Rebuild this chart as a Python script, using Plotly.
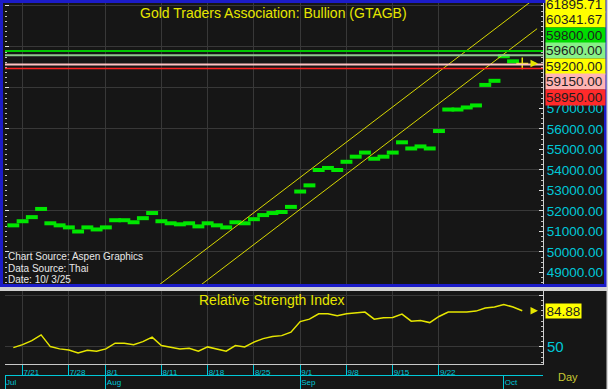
import plotly.graph_objects as go

# ---------------- data ----------------
dates = ["7/18",
         "7/21", "7/22", "7/23", "7/24", "7/25",
         "7/28", "7/29", "7/30", "7/31", "8/1",
         "8/4", "8/5", "8/6", "8/7", "8/8",
         "8/11", "8/12", "8/13", "8/14", "8/15",
         "8/18", "8/19", "8/20", "8/21", "8/22",
         "8/25", "8/26", "8/27", "8/28", "8/29",
         "9/1", "9/2", "9/3", "9/4", "9/5",
         "9/8", "9/9", "9/10", "9/11", "9/12",
         "9/15", "9/16", "9/17", "9/18", "9/19",
         "9/22", "9/23", "9/24", "9/25", "9/26",
         "9/29", "9/30", "10/1", "10/2", "10/3"]

closes = [51300,
          51500, 51700, 52100, 51400, 51300,
          51200, 51000, 51200, 51100, 51200,
          51550, 51550, 51450, 51650, 51900,
          51500, 51400, 51350, 51400, 51250,
          51400, 51300, 51200, 51450, 51400,
          51600, 51800, 51900, 51950, 52200,
          52950, 53250, 54000, 54100, 54000,
          54400, 54650, 54850, 54550, 54650,
          54850, 55350, 55050, 55150, 55050,
          55900, 56950, 56950, 57050, 57150,
          58150, 58350, 59550, 59300, 59200]

rsi = [49.3,
       52.2, 56.1, 61.6, 50.3, 48.1,
       47.1, 44.2, 46.8, 45.8, 48.1,
       53.6, 53.6, 52.2, 55.1, 59.4,
       51.3, 49.7, 48.1, 48.7, 45.8,
       50.0, 48.1, 45.8, 51.3, 50.0,
       54.6, 58.0, 60.0, 60.9, 64.2,
       74.5, 76.8, 82.0, 82.0, 80.0,
       82.0, 82.7, 83.6, 76.8, 78.1,
       78.4, 81.7, 74.9, 75.5, 73.5,
       79.4, 83.6, 83.6, 83.6, 84.6,
       87.5, 88.5, 91.0, 88.5, 84.88]

day_tick_labels = ["7/21", "7/28", "8/1", "8/11", "8/18", "8/25", "9/1", "9/8", "9/15", "9/22"]
month_labels = ["Jul", "Aug", "Sep", "Oct"]
month_first_days = ["8/1", "9/1", "10/1"]

price_tick_values = [49000, 50000, 51000, 52000, 53000, 54000, 55000, 56000, 57000]

# trend channel (drawn lines): positions in trading-day index and price
upper_channel_idx = [16, 57.6]
upper_channel_price = [48135.71, 62446.11]
lower_channel_idx = [21, 57.6]
lower_channel_price = [48301.67, 60892.07]

# horizontal study levels
level_values = [59800, 59600, 59150, 58950]
level_colors = ["#00c800", "#90c890", "#ffc4c4", "#ff2020"]
level_widths = [2, 2, 2, 1.5]

# right-hand value boxes
box_values = [61895.71, 60341.67, 59800.00, 59600.00, 59200.00, 59150.00, 58950.00]
box_colors = ["#ffff00", "#ffff00", "#00dd00", "#88f088", "#ffff00", "#ffb4b4", "#ff2a2a"]
last_price = 59200.00
rsi_last = 84.88

# ---------------- style ----------------
W, H = 608, 389
BG = "#161616"
GRID = "#383838"
CYAN = "#00c8d8"
YEL = "#e6e600"
FONT = "Liberation Sans, Arial, sans-serif"


def px_x(p):
    return p / W


def px_y(p):
    return 1 - p / H


XD = [px_x(5), px_x(543)]
XR = [0.1, 58.24]

x = list(range(1, len(dates) + 1))
day_tick_idx = [dates.index(d) + 1 for d in day_tick_labels]
month_tick_idx = [XR[0]] + [dates.index(d) + 1 for d in month_first_days]

fig = go.Figure()

# price bars
n = len(x)
sym = ["line-ew"] * (n - 1) + ["cross-thin"]
mcol = ["#00e600"] * (n - 1) + [YEL]
mlw = [4] * (n - 1) + [1.5]
fig.add_trace(go.Scatter(
    x=x, y=closes, mode="markers", xaxis="x", yaxis="y",
    marker=dict(symbol=sym, size=8.5, color=mcol, line=dict(color=mcol, width=mlw)),
    showlegend=False, hoverinfo="skip"))

# channel lines
for cx, cy in [(upper_channel_idx, upper_channel_price), (lower_channel_idx, lower_channel_price)]:
    fig.add_trace(go.Scatter(
        x=cx, y=cy, mode="lines", xaxis="x", yaxis="y3",
        line=dict(color="#d8d800", width=1), showlegend=False, hoverinfo="skip"))

# RSI
fig.add_trace(go.Scatter(
    x=x, y=rsi, mode="lines", xaxis="x2", yaxis="y2",
    line=dict(color=YEL, width=1.5), showlegend=False, hoverinfo="skip"))
# carrier for month axis
fig.add_trace(go.Scatter(
    x=[x[0]], y=[rsi[0]], mode="markers", xaxis="x3", yaxis="y2",
    marker=dict(opacity=0), showlegend=False, hoverinfo="skip"))

# horizontal levels
for v, c, w in zip(level_values, level_colors, level_widths):
    fig.add_shape(type="line", xref="x domain", x0=0, x1=1, yref="y", y0=v, y1=v,
                  line=dict(color=c, width=w))

price_range = [48390, 62146]

fig.update_layout(
    width=W, height=H,
    margin=dict(l=0, r=0, t=0, b=0),
    paper_bgcolor=BG, plot_bgcolor=BG,
    font=dict(family=FONT),
    showlegend=False,
    xaxis=dict(domain=XD, range=XR, anchor="y", tickvals=day_tick_idx,
               showticklabels=False, ticks="", showgrid=True, gridcolor=GRID,
               zeroline=False, showline=False),
    yaxis=dict(domain=[px_y(285), px_y(3)], range=price_range, anchor="x", side="right",
               tickvals=price_tick_values, ticktext=[f"{v:.2f}" for v in price_tick_values],
               tickfont=dict(color=CYAN, size=13.5, family=FONT),
               ticks="inside", ticklen=4, tickcolor="#e0e0e0",
               minor=dict(dtick=250, ticks="inside", ticklen=2, tickcolor="#c0c0c0", showgrid=False),
               showgrid=False, showline=True, linecolor="#d0d0d0", zeroline=False),
    yaxis3=dict(overlaying="y", range=price_range, anchor="x", side="left",
                tick0=0, dtick=2000, showgrid=True, gridcolor=GRID, showticklabels=False,
                ticks="inside", ticklen=4, tickcolor="#e0e0e0",
                minor=dict(dtick=250, ticks="inside", ticklen=2, tickcolor="#c0c0c0", showgrid=False),
                zeroline=False, showline=False),
    xaxis2=dict(domain=XD, range=XR, anchor="y2", tickvals=day_tick_idx, ticktext=day_tick_labels,
                ticks="outside", ticklen=11, tickcolor=CYAN, tickwidth=1,
                ticklabelposition="outside right", ticklabelstandoff=0,
                tickfont=dict(color=CYAN, size=8, family=FONT),
                showgrid=True, gridcolor=GRID, showline=True, linecolor="#c8c8c8",
                zeroline=False),
    xaxis3=dict(overlaying="x2", anchor="free", position=px_y(375), side="bottom",
                range=XR, tickvals=month_tick_idx, ticktext=month_labels,
                ticks="outside", ticklen=14, tickcolor=CYAN, tickwidth=1,
                ticklabelposition="outside right", ticklabelstandoff=-1,
                tickfont=dict(color=CYAN, size=8, family=FONT),
                showgrid=False, showline=True, linecolor=CYAN, zeroline=False),
    yaxis2=dict(domain=[px_y(364), px_y(291)], range=[33.5, 104], anchor="x2", side="right",
                tickvals=[50, 100], ticktext=["50", ""],
                tickfont=dict(color=CYAN, size=15, family=FONT),
                ticks="inside", ticklen=4, tickcolor="#e0e0e0",
                minor=dict(dtick=5, ticks="inside", ticklen=2, tickcolor="#c0c0c0", showgrid=False),
                showgrid=True, gridcolor=GRID, showline=True, linecolor="#d0d0d0",
                zeroline=False),
)

# frame / separators
fig.add_shape(type="rect", xref="paper", yref="paper",
              x0=0, x1=1, y0=px_y(291), y1=px_y(286),
              fillcolor="#d0d0d0", line=dict(width=0), layer="above")
fig.add_shape(type="rect", xref="paper", yref="paper",
              x0=px_x(1.5), x1=px_x(605.5), y0=px_y(285.5), y1=px_y(1.5),
              line=dict(color="#1c1cc8", width=3), layer="above")
fig.add_shape(type="rect", xref="paper", yref="paper",
              x0=px_x(606.5), x1=1, y0=0, y1=1,
              fillcolor="#d8d8d8", line=dict(width=0), layer="above")

ann = []


def txt(text, xp, yp, size, color, xanchor="center"):
    return dict(text=text, x=px_x(xp), y=px_y(yp), xref="paper", yref="paper",
                xanchor=xanchor, yanchor="middle", showarrow=False,
                font=dict(color=color, size=size, family=FONT))


ann.append(txt("Gold Traders Association: Bullion (GTAGB)", 273, 12.5, 14, YEL))
ann.append(txt("Relative Strength Index", 272, 300, 14, YEL))
for t, yy in [("Chart Source: Aspen Graphics", 256.5), ("Data Source: Thai", 268),
              ("Date: 10/ 3/25", 279.5)]:
    ann.append(txt(t, 6, yy, 10, "#e8e8e8", "left"))

box_centers = [4.5, 20, 35.5, 51, 66.5, 82, 97.5]
for v, c, cy in zip(box_values, box_colors, box_centers):
    ann.append(dict(text=f"{v:.2f}", x=px_x(545), y=px_y(cy), xref="paper", yref="paper",
                    xanchor="left", yanchor="middle", showarrow=False, align="left",
                    bgcolor=c, width=59, height=15, borderpad=0,
                    font=dict(color="#1e1e1e", size=13.5, family=FONT)))
ann.append(dict(text=f"{rsi_last:.2f}", x=px_x(545), y=px_y(311), xref="paper", yref="paper",
                xanchor="left", yanchor="middle", showarrow=False,
                bgcolor="#ffff00", width=35, height=14, borderpad=0,
                font=dict(color="#1e1e1e", size=13.5, family=FONT)))
ann.append(txt("Day", 568, 377, 11, "#c8c832"))
# last value arrows
ann.append(dict(x=px_x(538), y=last_price, xref="paper", yref="y", ax=-8, ay=0,
                showarrow=True, arrowhead=2, arrowsize=1, arrowwidth=1.5, arrowcolor=YEL, text=""))
ann.append(dict(x=px_x(538), y=rsi_last, xref="paper", yref="y2", ax=-8, ay=0,
                showarrow=True, arrowhead=2, arrowsize=1, arrowwidth=1.5, arrowcolor=YEL, text=""))
fig.update_layout(annotations=ann)

fig.write_html("out.html", config={"displayModeBar": False},
               post_script="document.body.style.margin='0';document.body.style.overflow='hidden';")
